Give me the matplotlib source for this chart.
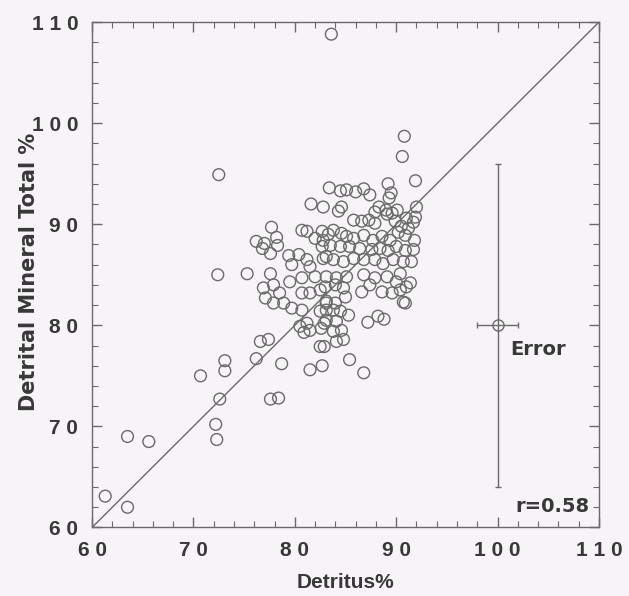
import numpy as np
import matplotlib.pyplot as plt
from matplotlib.ticker import MultipleLocator, FixedLocator

# Detritus% (x) vs Detrital Mineral Total % (y)
detritus = np.array([
    83.6, 72.5, 90.8, 90.6, 91.9, 89.2, 89.5, 89.3,
    83.4, 84.5, 85.1, 86.0, 86.8, 87.4,
    81.6, 82.8, 84.3, 84.6, 88.3, 87.9, 89.0, 89.6, 90.1, 92.0, 91.9,
    85.8, 86.6, 87.3, 87.9, 89.9, 91.0, 91.7, 91.2, 90.5, 90.2, 89.1,
    77.7, 78.2, 76.2, 77.0, 78.3, 76.8, 77.6,
    79.4, 80.4, 79.7, 80.7, 81.2, 82.0, 82.7, 82.8, 82.7, 83.1, 81.5, 81.2,
    83.3, 83.8, 84.6, 85.1, 85.8, 86.8, 87.7, 88.6, 89.4, 90.9, 91.8,
    83.5, 84.5, 85.4, 86.4, 87.6, 88.4, 89.2, 90.0, 90.9, 91.7,
    82.8, 83.8, 84.8, 85.8, 86.8, 87.9, 88.7, 89.7, 90.7, 91.5,
    83.1, 84.1, 85.1, 86.8, 87.9, 89.1, 90.4, 91.4, 90.0,
    83.0, 84.0, 84.8, 86.6, 87.4, 88.6, 89.6, 90.4, 91.0,
    83.1, 84.0, 85.0, 83.8, 84.5, 85.3, 83.1, 84.1, 84.6, 83.8, 84.8, 82.9,
    87.2, 88.2, 88.8, 90.7, 90.9,
    75.3, 77.6, 82.0, 80.7, 76.9, 77.9, 78.5, 79.5, 77.1, 77.9, 78.9, 79.7,
    80.7, 80.7, 81.5, 82.5, 83.1, 82.5, 83.1,
    81.2, 80.5, 81.5, 82.6, 76.6, 77.4, 82.5, 76.2,
    80.9, 82.9, 84.1,
    78.7, 81.5, 82.7, 85.4, 86.8, 77.6, 78.4,
    72.4, 73.1, 73.1, 70.7, 72.6, 72.2, 72.3, 63.5, 65.6, 61.3, 63.5,
])
mineral_total = np.array([
    108.8, 94.9, 98.7, 96.7, 94.3, 94.0, 93.1, 92.6,
    93.6, 93.3, 93.4, 93.2, 93.5, 92.9,
    92.0, 91.7, 91.3, 91.7, 91.7, 91.2, 91.4, 91.1, 91.4, 91.7, 90.7,
    90.4, 90.3, 90.4, 90.1, 90.3, 90.6, 90.2, 89.6, 89.8, 89.2, 91.0,
    89.7, 88.7, 88.3, 88.1, 87.9, 87.6, 87.1,
    86.9, 87.0, 86.0, 89.4, 89.3, 88.6, 89.3, 88.4, 87.8, 86.8, 85.8, 86.5,
    89.0, 89.4, 89.1, 88.8, 88.6, 88.9, 88.4, 88.8, 88.4, 88.9, 88.4,
    87.9, 87.8, 87.8, 87.6, 87.5, 87.6, 87.4, 87.8, 87.4, 87.5,
    86.6, 86.5, 86.3, 86.6, 86.5, 86.5, 86.1, 86.5, 86.3, 86.3,
    84.8, 84.7, 84.8, 85.0, 84.7, 84.8, 85.1, 84.2, 84.3,
    83.8, 84.0, 83.7, 83.3, 84.0, 83.3, 83.2, 83.5, 83.8,
    82.2, 82.2, 82.8, 81.5, 81.4, 81.0, 80.5, 80.4, 79.5, 79.4, 78.6, 77.9,
    80.3, 80.9, 80.6, 82.3, 82.2,
    85.1, 85.1, 84.8, 84.7, 83.7, 84.0, 83.2, 84.3, 82.7, 82.2, 82.2, 81.7,
    81.5, 83.2, 83.2, 83.5, 82.4, 81.4, 81.5,
    80.2, 79.9, 79.5, 79.7, 78.4, 78.6, 77.9, 76.7,
    79.3, 80.2, 78.4,
    76.2, 75.6, 76.0, 76.6, 75.3, 72.7, 72.8,
    85.0, 76.5, 75.5, 75.0, 72.7, 70.2, 68.7, 69.0, 68.5, 63.1, 62.0,
])

# error marker
err_x, err_y = 100, 80
err_dx, err_dy = 2, 16

ticks = [60, 70, 80, 90, 100, 110]
tick_labels = ["6 0", "7 0", "8 0", "9 0", "1 0 0", "1 1 0"]

bg = "#f6f4f6"
grey = "#6a6a6a"
txt = "#383838"
plt.rcParams["font.family"] = ["Liberation Sans", "DejaVu Sans"]
plt.rcParams["font.weight"] = "bold"
wide = ["DejaVu Sans"]

fig = plt.figure(figsize=(6.29, 5.96), dpi=100, facecolor=bg)
ax = fig.add_axes([0.1463, 0.115, 0.806, 0.848], facecolor=bg)

ax.plot([60, 110], [60, 110], color=grey, lw=1)
ax.scatter(detritus, mineral_total, s=72, facecolors="none",
           edgecolors=grey, linewidths=1.0, zorder=3)

ax.errorbar(err_x, err_y, xerr=err_dx, yerr=err_dy, fmt="o", ms=8,
            mfc="none", mec=grey, ecolor=grey, elinewidth=1, capsize=2.5,
            capthick=1, mew=1)

ax.text(101.2, 77.6, "Error", fontsize=14, color=txt, va="center",
        ha="left", fontweight="bold", family=wide)
ax.text(109.1, 62.1, "r=0.58", fontsize=14, color=txt, va="center",
        ha="right", fontweight="bold", family=wide)

ax.set_xlim(60, 110)
ax.set_ylim(60, 110)
ax.xaxis.set_major_locator(FixedLocator(ticks))
ax.yaxis.set_major_locator(FixedLocator(ticks))
ax.set_xticklabels(tick_labels)
ax.set_yticklabels(tick_labels)
ax.xaxis.set_minor_locator(MultipleLocator(2))
ax.yaxis.set_minor_locator(MultipleLocator(2))
ax.tick_params(which="both", direction="in", top=True, right=True,
               color=grey, labelsize=15, labelcolor=txt)
ax.tick_params(which="major", length=7, width=1, pad=10)
ax.tick_params(which="minor", length=4, width=0.8)
for s in ax.spines.values():
    s.set_color(grey)
    s.set_linewidth(1)

ax.set_xlabel("Detritus%", fontsize=15, color=txt, fontweight="bold",
              labelpad=9)
ax.set_ylabel("Detrital Mineral Total %", fontsize=15, color=txt,
              fontweight="bold", family=wide)
ax.yaxis.set_label_coords(-0.104, 0.505)

fig.savefig("out.png", dpi=100, facecolor=bg)
